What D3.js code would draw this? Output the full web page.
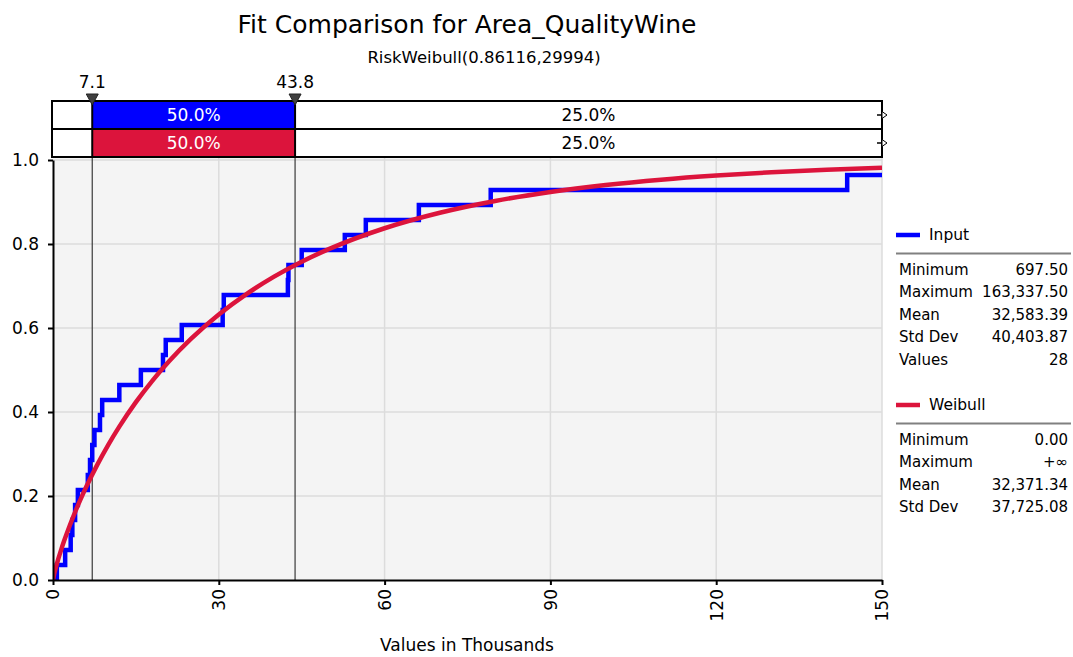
<!DOCTYPE html>
<html><head><meta charset="utf-8">
<script src="https://cdn.jsdelivr.net/npm/d3@7"></script>
<style>
body{margin:0;background:#fff;}
text{font-family:"DejaVu Sans",Verdana,sans-serif;}
</style></head>
<body><svg id="c" width="1073" height="657"></svg>
<script>
// ---- data (values in thousands) ----
const inputValues = [0.7, 2.2, 3.2, 3.5, 4.0, 4.5, 6.3, 6.7, 7.1, 7.5, 8.5, 8.9, 12.0, 15.9, 19.9, 20.4, 23.3, 30.7, 30.9, 42.5, 42.6, 45.0, 52.8, 56.6, 66.2, 79.2, 143.7, 163.3];
const fitX = [0, 0.2, 0.5, 1, 1.5, 2, 3, 4, 5, 6, 8, 10, 12, 15, 18, 21, 25, 30, 35, 40, 45, 50, 60, 70, 80, 90, 100, 110, 120, 130, 140, 150];
const fitY = [0, 0.0133, 0.0290, 0.0520, 0.0730, 0.0926, 0.1286, 0.1617, 0.1924, 0.2213, 0.2741, 0.3218, 0.3651, 0.4234, 0.4749, 0.5208, 0.5747, 0.6322, 0.6808, 0.7224, 0.7579, 0.7883, 0.8375, 0.8744, 0.9025, 0.9239, 0.9404, 0.9532, 0.9631, 0.9709, 0.9769, 0.9817];
const xTicks = [0, 30, 60, 90, 120, 150];
const yTicks = [0, 0.2, 0.4, 0.6, 0.8, 1.0];
const markers = [7.1, 43.8];
const barInput = ["25.0%", "50.0%", "25.0%"];
const barFit = ["25.0%", "50.0%", "25.0%"];
const inputStatsLabels = ["Minimum", "Maximum", "Mean", "Std Dev", "Values"];
const inputStatsValues = ["697.50", "163,337.50", "32,583.39", "40,403.87", "28"];
const fitStatsLabels = ["Minimum", "Maximum", "Mean", "Std Dev"];
const fitStatsValues = ["0.00", "+\u221e", "32,371.34", "37,725.08"];
const title = "Fit Comparison for Area_QualityWine";
const subtitle = "RiskWeibull(0.86116,29994)";
const xLabel = "Values in Thousands";
const BLUE = "#0000ff", RED = "#dc143c";

const svg = d3.select("#c");
const L = 53, R = 882, T = 160, B = 580;
const x = d3.scaleLinear().domain([0, 150]).range([L, R]);
const y = d3.scaleLinear().domain([0, 1]).range([B, T]);

// titles
svg.append("text").attr("x", 467).attr("y", 33).attr("text-anchor", "middle")
  .attr("font-size", 25).attr("fill", "#000").text(title);
svg.append("text").attr("x", 484).attr("y", 63).attr("text-anchor", "middle")
  .attr("font-size", 16.5).attr("fill", "#000").text(subtitle);

// plot background
svg.append("rect").attr("x", L).attr("y", T - 2).attr("width", R - L).attr("height", B - T + 2).attr("fill", "#f4f4f4");

// grid
svg.append("g").selectAll("line").data(yTicks.slice(1)).join("line")
  .attr("x1", L).attr("x2", R).attr("y1", d => y(d)).attr("y2", d => y(d))
  .attr("stroke", "#dcdcdc").attr("stroke-width", 1.5);
svg.append("g").selectAll("line").data(xTicks.slice(1)).join("line")
  .attr("x1", d => x(d)).attr("x2", d => x(d)).attr("y1", T - 2).attr("y2", B)
  .attr("stroke", "#dcdcdc").attr("stroke-width", 1.5);

// marker vertical lines
svg.append("g").selectAll("line").data(markers).join("line")
  .attr("x1", d => x(d)).attr("x2", d => x(d)).attr("y1", 157).attr("y2", B)
  .attr("stroke", "#3a3a3a").attr("stroke-width", 1.2);

// clip
svg.append("clipPath").attr("id", "clip").append("rect")
  .attr("x", L).attr("y", T - 10).attr("width", R - L).attr("height", B - T + 12);

// input step line
const stepPts = [[inputValues[0], 0]].concat(inputValues.map((v, i) => [v, (i + 1) / inputValues.length]));
svg.append("path").attr("clip-path", "url(#clip)")
  .attr("d", d3.line().x(d => x(d[0])).y(d => y(d[1])).curve(d3.curveStepAfter)(stepPts))
  .attr("fill", "none").attr("stroke", BLUE).attr("stroke-width", 4.5);

// fitted curve
svg.append("path").attr("clip-path", "url(#clip)")
  .attr("d", d3.line().x((d, i) => x(fitX[i])).y(d => y(d)).curve(d3.curveMonotoneX)(fitY))
  .attr("fill", "none").attr("stroke", RED).attr("stroke-width", 4.5);

// axes
const yAxis = svg.append("g").attr("transform", `translate(${L},0)`)
  .call(d3.axisLeft(y).tickValues(yTicks).tickFormat(d3.format(".1f")).tickSize(5).tickSizeOuter(0));
yAxis.select(".domain").attr("stroke", "#000").attr("stroke-width", 2);
yAxis.selectAll(".tick line").attr("stroke", "#000").attr("stroke-width", 2);
yAxis.selectAll(".tick text").attr("font-size", 17).attr("fill", "#000").attr("x", -14)
  .style("font-family", "'DejaVu Sans',sans-serif");

const xAxis = svg.append("g").attr("transform", `translate(0,${B})`)
  .call(d3.axisBottom(x).tickValues(xTicks).tickFormat(d3.format("d")).tickSize(5).tickSizeOuter(0));
xAxis.select(".domain").attr("stroke", "#000").attr("stroke-width", 2);
xAxis.selectAll(".tick line").attr("stroke", "#000").attr("stroke-width", 2);
xAxis.selectAll(".tick text").attr("font-size", 17).attr("fill", "#000")
  .style("font-family", "'DejaVu Sans',sans-serif")
  .attr("transform", "rotate(-90)").attr("x", -9).attr("y", 0).attr("dy", "0.35em")
  .attr("text-anchor", "end");

svg.append("text").attr("x", 467).attr("y", 651).attr("text-anchor", "middle")
  .attr("font-size", 17).attr("fill", "#000").text(xLabel);

// top probability bars
const rowH = 28, row1 = 101;
const edges = [0, markers[0], markers[1], 150];
[[barInput, BLUE], [barFit, RED]].forEach(([labels, col], r) => {
  const y0 = row1 + r * rowH;
  svg.append("rect").attr("x", x(edges[1])).attr("y", y0).attr("width", x(edges[2]) - x(edges[1])).attr("height", rowH).attr("fill", col);
  svg.append("rect").attr("x", L - 1).attr("y", y0).attr("width", R - L + 1).attr("height", rowH)
    .attr("fill", "none").attr("stroke", "#000").attr("stroke-width", 2);
  [1, 2].forEach(k => {
    svg.append("text").attr("x", (x(edges[k]) + x(edges[k + 1])) / 2).attr("y", y0 + rowH / 2)
      .attr("dy", "0.36em").attr("text-anchor", "middle").attr("font-size", 17)
      .attr("fill", k === 1 ? "#fff" : "#000").text(labels[k]);
  });
  // small arrow at right edge
  const ay = y0 + rowH / 2;
  svg.append("line").attr("x1", R - 5).attr("x2", R).attr("y1", ay).attr("y2", ay).attr("stroke", "#000").attr("stroke-width", 1.5);
  svg.append("path").attr("d", `M${R},${ay - 3.5}L${R + 5},${ay}L${R},${ay + 3.5}Z`).attr("fill", "#fff").attr("stroke", "#000").attr("stroke-width", 1);
});
// separator lines at markers across bars
svg.append("g").selectAll("line").data(markers).join("line")
  .attr("x1", d => x(d)).attr("x2", d => x(d)).attr("y1", row1).attr("y2", row1 + 2 * rowH)
  .attr("stroke", "#000").attr("stroke-width", 2);
// marker triangles + labels
svg.append("g").selectAll("path").data(markers).join("path")
  .attr("d", d => `M${x(d) - 6},${94}L${x(d) + 6},${94}L${x(d)},${105}Z`)
  .attr("fill", "#404040").attr("stroke", "#222").attr("stroke-width", 1);
svg.append("g").selectAll("text").data(markers).join("text")
  .attr("x", d => x(d)).attr("y", 88).attr("text-anchor", "middle").attr("font-size", 17)
  .attr("fill", "#000").text(d => d3.format(".1f")(d));

// legend
function legendBlock(top, name, col, labels, values) {
  svg.append("line").attr("x1", 896).attr("x2", 920).attr("y1", top).attr("y2", top).attr("stroke", col).attr("stroke-width", 4.5);
  svg.append("text").attr("x", 929).attr("y", top).attr("dy", "0.35em").attr("font-size", 15.5).attr("fill", "#000").text(name);
  svg.append("line").attr("x1", 896).attr("x2", 1071).attr("y1", top + 18.5).attr("y2", top + 18.5).attr("stroke", "#808080").attr("stroke-width", 2);
  labels.forEach((lab, i) => {
    const yy = top + 34.5 + i * 22.5;
    svg.append("text").attr("x", 899).attr("y", yy).attr("dy", "0.35em").attr("font-size", 15).attr("fill", "#000").text(lab);
    svg.append("text").attr("x", 1068).attr("y", yy).attr("dy", "0.35em").attr("text-anchor", "end").attr("font-size", 15).attr("fill", "#000").text(values[i]);
  });
}
legendBlock(235, "Input", BLUE, inputStatsLabels, inputStatsValues);
legendBlock(405, "Weibull", RED, fitStatsLabels, fitStatsValues);
</script></body></html>
